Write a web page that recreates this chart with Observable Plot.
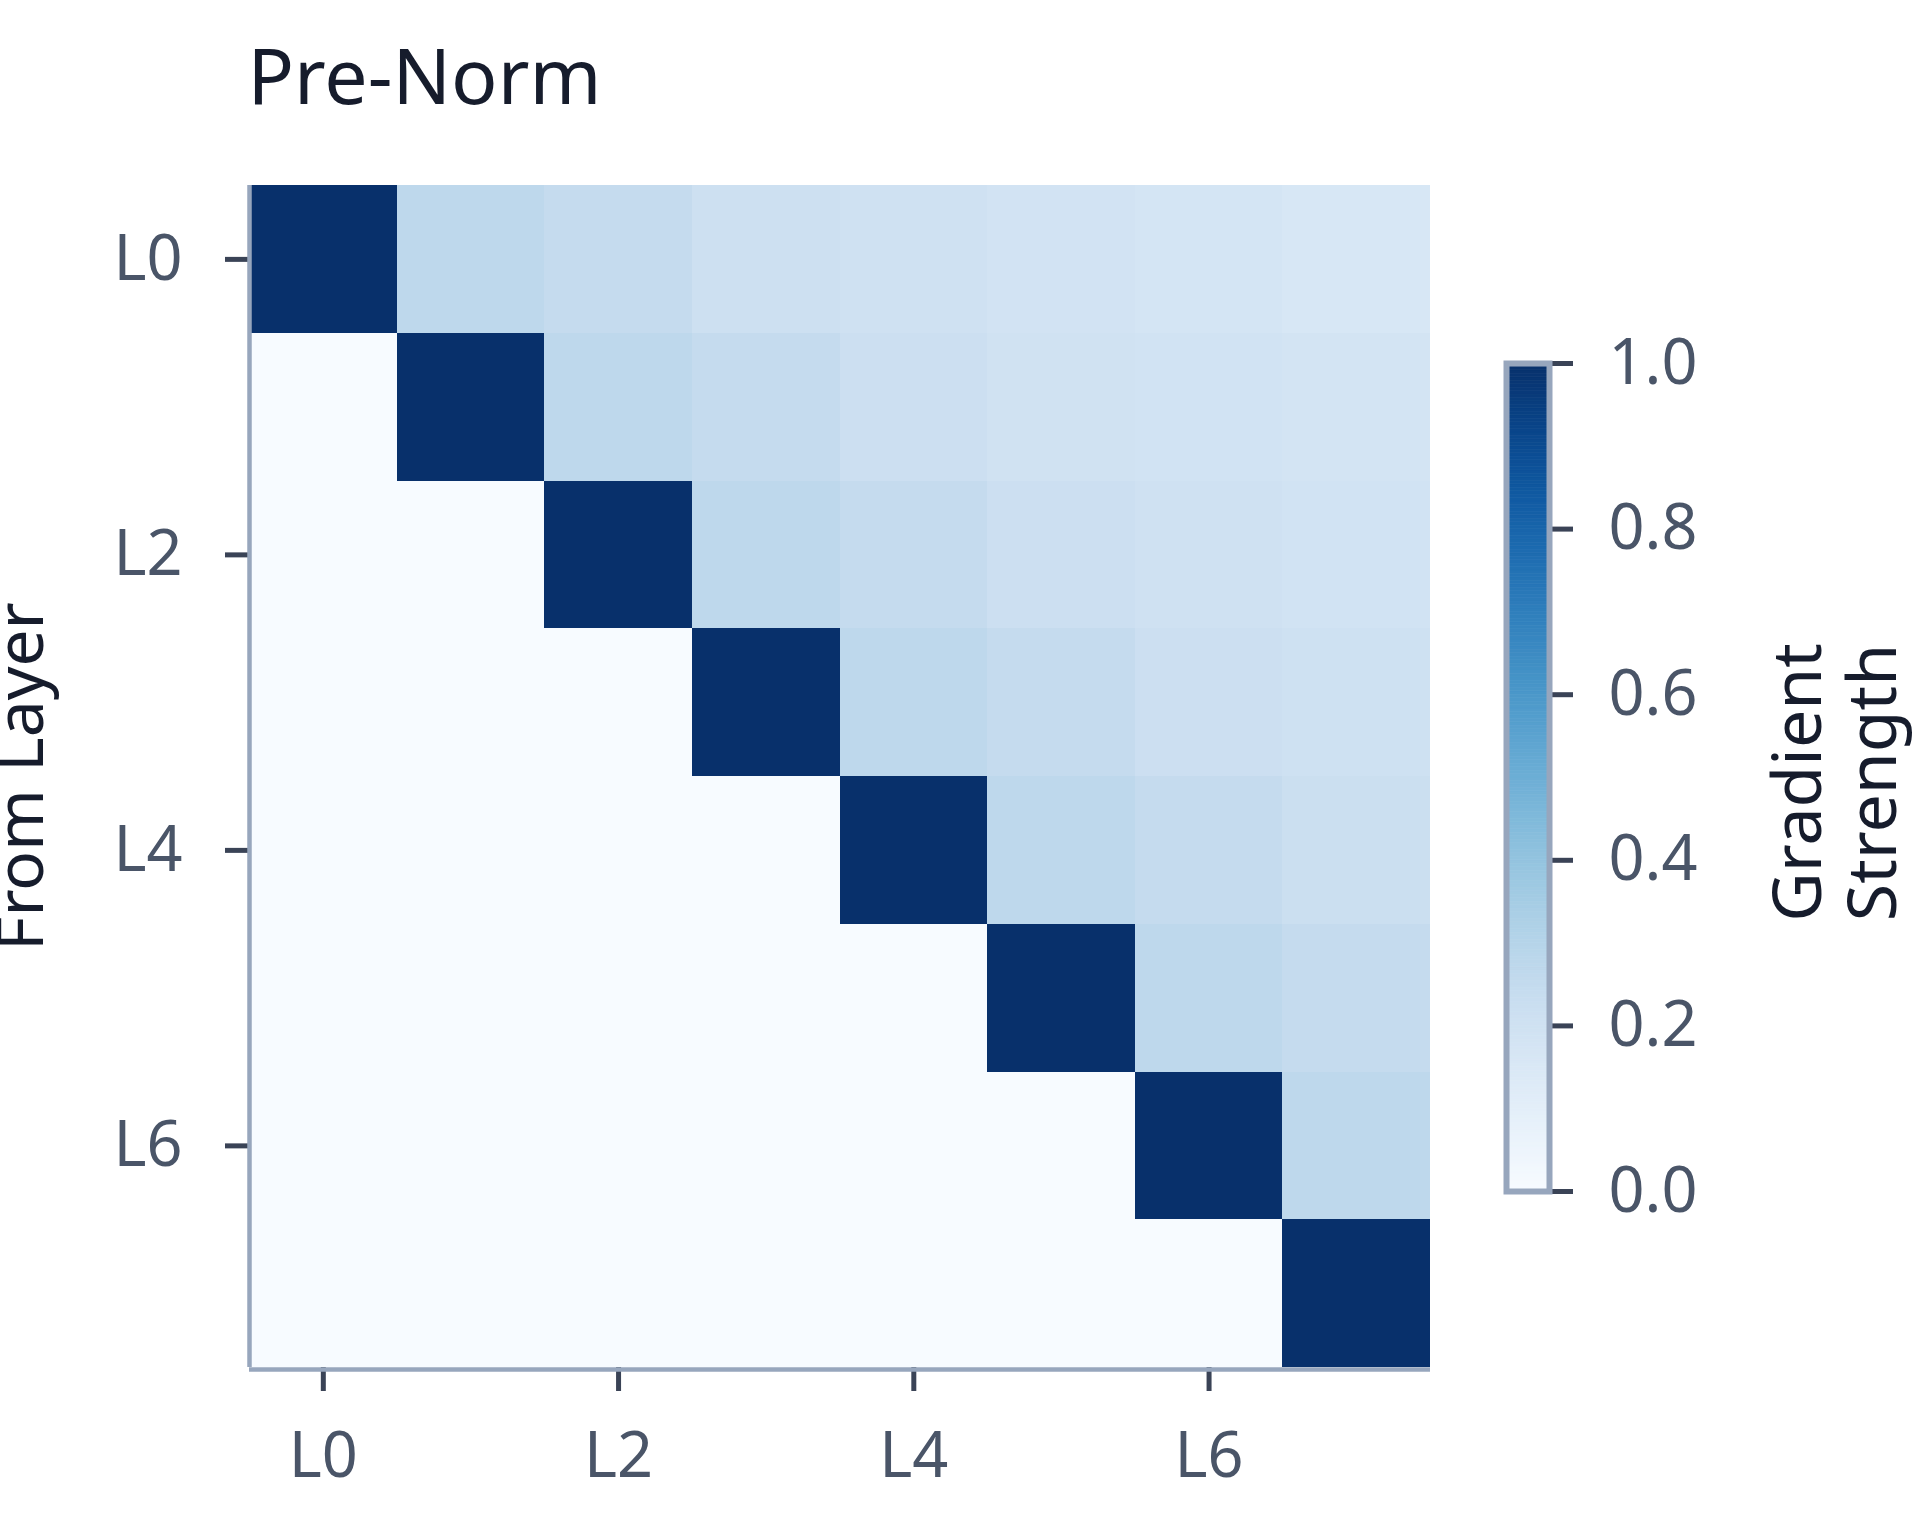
<!DOCTYPE html>
<html>
<head>
<meta charset="utf-8">
<script src="https://cdn.jsdelivr.net/npm/d3@7"></script>
<script src="https://cdn.jsdelivr.net/npm/@observablehq/plot@0.6"></script>
<style>
  html, body { margin: 0; padding: 0; background: #ffffff; }
  #wrap { position: relative; width: 1920px; height: 1536px; overflow: hidden; background: #ffffff; }
  #main { position: absolute; left: 0; top: 0; }
  #bar { position: absolute; left: 1480px; top: 0; }
</style>
</head>
<body>
<div id="wrap"><div id="main"></div><div id="bar"></div></div>
<script>
// ---- data ----
const title = "Pre-Norm";
const yLabel = "From Layer";
const colorLabel = "Gradient\nStrength";
const layers = ["L0", "L1", "L2", "L3", "L4", "L5", "L6", "L7"];
const tickLayers = ["L0", "L2", "L4", "L6"];
const colorTicks = [0, 0.2, 0.4, 0.6, 0.8, 1.0];
// gradient strength: row = from layer, column = to layer
const row0 = [1.00, 0.27, 0.245, 0.21, 0.20, 0.185, 0.175, 0.16];
const row1 = [0.00, 1.00, 0.27, 0.245, 0.215, 0.195, 0.19, 0.18];
const row2 = [0.00, 0.00, 1.00, 0.27, 0.245, 0.215, 0.20, 0.19];
const row3 = [0.00, 0.00, 0.00, 1.00, 0.27, 0.245, 0.215, 0.205];
const row4 = [0.00, 0.00, 0.00, 0.00, 1.00, 0.27, 0.245, 0.22];
const row5 = [0.00, 0.00, 0.00, 0.00, 0.00, 1.00, 0.27, 0.245];
const row6 = [0.00, 0.00, 0.00, 0.00, 0.00, 0.00, 1.00, 0.27];
const row7 = [0.00, 0.00, 0.00, 0.00, 0.00, 0.00, 0.00, 1.00];
const rows = [row0, row1, row2, row3, row4, row5, row6, row7];

// ---- build table ----
const cells = [];
rows.forEach((r, i) => r.forEach((v, j) => cells.push({from: i, to: j, v})));
const idx = (name) => layers.indexOf(name);

const font = "'Noto Sans', 'Open Sans', sans-serif";
const tickText = "#4a5568";
const tickStroke = "#3a4356";
const axisLine = "#97a6bd";
const dark = "#161c2c";

const main = Plot.plot({
  width: 1480,
  height: 1536,
  marginLeft: 249,
  marginRight: 50,
  marginTop: 185,
  marginBottom: 169,
  style: {fontFamily: font, background: "transparent", overflow: "visible"},
  x: {domain: [0, layers.length]},
  y: {domain: [0, layers.length], reverse: true},
  color: {type: "linear", scheme: "blues", domain: [0, 1]},
  marks: [
    Plot.rect(cells, {
      x1: d => d.to, x2: d => d.to + 1,
      y1: d => d.from, y2: d => d.from + 1,
      fill: "v", shapeRendering: "crispEdges"
    }),
    Plot.axisX({
      ticks: tickLayers.map(t => idx(t) + 0.5),
      tickFormat: d => layers[Math.floor(d)],
      tickSize: 24, tickPadding: 41,
      fontSize: 63, fill: tickText, stroke: tickStroke, strokeWidth: 5,
      label: null
    }),
    Plot.axisY({
      ticks: tickLayers.map(t => idx(t) + 0.5),
      tickFormat: d => layers[Math.floor(d)],
      tickSize: 24, tickPadding: 43,
      fontSize: 63, fill: tickText, stroke: tickStroke, strokeWidth: 5,
      label: null
    }),
    Plot.ruleX([0], {stroke: axisLine, strokeWidth: 4.5}),
    Plot.ruleY([layers.length], {stroke: axisLine, strokeWidth: 4.5, dy: 2}),
    Plot.text([yLabel], {
      text: d => d, frameAnchor: "left", rotate: -90,
      dx: -207, lineAnchor: "bottom", textAnchor: "middle",
      fontSize: 66, fill: dark
    }),
    Plot.text([title], {
      text: d => d, frameAnchor: "top-left",
      dx: -2, dy: -82, lineAnchor: "bottom", textAnchor: "start",
      fontSize: 77, fill: dark
    })
  ]
});
document.getElementById("main").appendChild(main);

// ---- colour bar ----
const steps = 240;
const ramp = d3.range(steps).map(i => ({lo: i / steps, hi: (i + 1) / steps}));
const bar = Plot.plot({
  width: 440,
  height: 1536,
  marginLeft: 26,
  marginRight: 371,
  marginTop: 363,
  marginBottom: 345,
  style: {fontFamily: font, background: "transparent", overflow: "visible"},
  x: {domain: [0, 1], axis: null},
  y: {domain: [0, 1]},
  color: {type: "linear", scheme: "blues", domain: [0, 1]},
  marks: [
    Plot.rect(ramp, {
      x1: 0, x2: 1, y1: "lo", y2: "hi",
      fill: d => (d.lo + d.hi) / 2, stroke: d => (d.lo + d.hi) / 2, strokeWidth: 0.6
    }),
    Plot.axisY({
      anchor: "right",
      ticks: colorTicks,
      tickFormat: d3.format(".1f"),
      tickSize: 23, tickPadding: 36,
      fontSize: 63, fill: tickText, stroke: tickStroke, strokeWidth: 5,
      label: null
    }),
    Plot.frame({stroke: axisLine, strokeWidth: 6}),
    Plot.text([colorLabel], {
      text: d => d, frameAnchor: "right", rotate: -90,
      dx: 346, dy: 5, lineAnchor: "bottom", textAnchor: "middle",
      lineHeight: 1.1, fontSize: 68, fill: dark
    })
  ]
});
document.getElementById("bar").appendChild(bar);
</script>
</body>
</html>
